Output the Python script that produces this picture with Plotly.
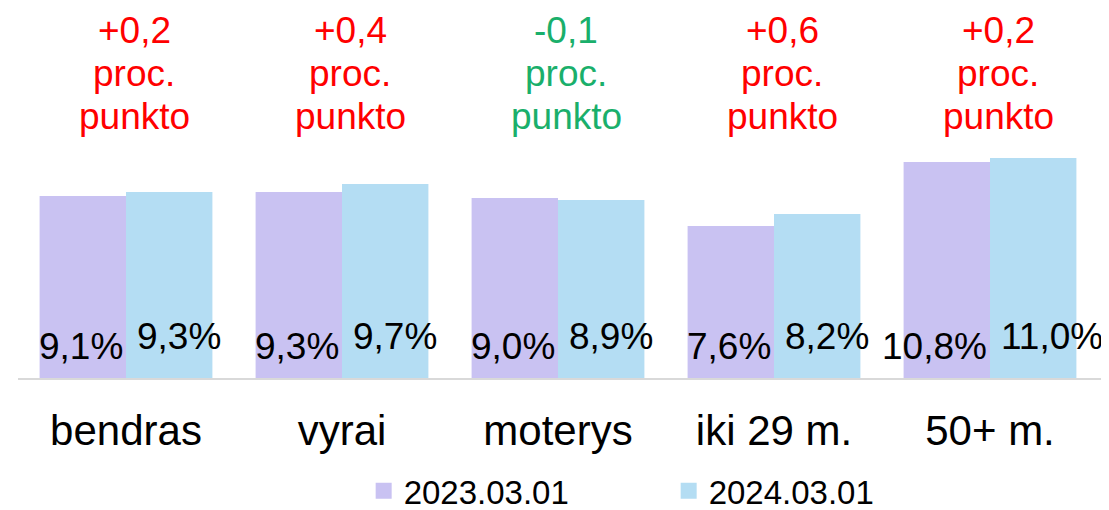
import plotly.graph_objects as go

categories = ["bendras", "vyrai", "moterys", "iki 29 m.", "50+ m."]
series_names = ["2023.03.01", "2024.03.01"]
values_2023 = [9.1, 9.3, 9.0, 7.6, 10.8]
values_2024 = [9.3, 9.7, 8.9, 8.2, 11.0]
changes = ["+0,2", "+0,4", "-0,1", "+0,6", "+0,2"]
change_unit = ["proc.", "punkto"]

COL_2023 = "#C9C2F2"
COL_2024 = "#B4DDF3"
RED = "#FF0000"
GREEN = "#1AAF6B"
FONT = "Arial, Liberation Sans, sans-serif"


def fmt(v):
    return f"{v:.1f}".replace(".", ",") + "%"


fig = go.Figure()
for name, vals, col in [(series_names[0], values_2023, COL_2023),
                        (series_names[1], values_2024, COL_2024)]:
    fig.add_trace(go.Bar(
        x=categories, y=vals, name=name,
        marker=dict(color=col, line_width=0),
        showlegend=False,
    ))
    # legend proxies with bigger square symbols
    fig.add_trace(go.Scatter(
        x=[None], y=[None], mode="markers", name=name,
        marker=dict(symbol="square", size=18, color=col),
    ))

annotations = []
# value labels near the bar bases
for cat, v1, v2 in zip(categories, values_2023, values_2024):
    annotations.append(dict(
        x=cat, y=0, text=fmt(v1), showarrow=False,
        xanchor="right", yanchor="middle", xshift=-1, yshift=32,
        font=dict(size=37, color="black", family=FONT),
    ))
    annotations.append(dict(
        x=cat, y=0, text=fmt(v2), showarrow=False,
        xanchor="left", yanchor="middle", xshift=9, yshift=42,
        font=dict(size=37, color="black", family=FONT),
    ))

# change labels above the groups
line_shifts = [111, 68, 25]
for cat, ch in zip(categories, changes):
    col = GREEN if ch.startswith("-") else RED
    for txt, ys in zip([ch] + change_unit, line_shifts):
        annotations.append(dict(
            x=cat, y=1, yref="paper", text=txt, showarrow=False,
            xanchor="center", yanchor="middle", xshift=8, yshift=ys,
            font=dict(size=37, color=col, family=FONT),
        ))

# page body has a small margin, so the figure is sized to fit inside the window
fig.update_layout(
    width=1101, height=503,
    paper_bgcolor="white", plot_bgcolor="white",
    font=dict(family=FONT, color="black"),
    margin=dict(l=10, r=4, t=133, b=133, autoexpand=False),
    barmode="group", bargap=0.2, bargroupgap=0.0,
    xaxis=dict(
        showline=True, linecolor="#D9D9D9", linewidth=2,
        showgrid=False, ticks="", tickfont=dict(size=42, color="black"),
        ticklabelstandoff=15, fixedrange=True, automargin=False,
    ),
    yaxis=dict(
        range=[0, 11.85], visible=False, showgrid=False, zeroline=False,
    ),
    legend=dict(
        orientation="h", x=0.318, xanchor="left",
        yref="container", y=0.04, yanchor="middle",
        font=dict(size=33, color="black"),
        entrywidth=260, entrywidthmode="pixels",
        itemsizing="trace", tracegroupgap=0,
    ),
    annotations=annotations,
)

fig.write_html("out.html")
